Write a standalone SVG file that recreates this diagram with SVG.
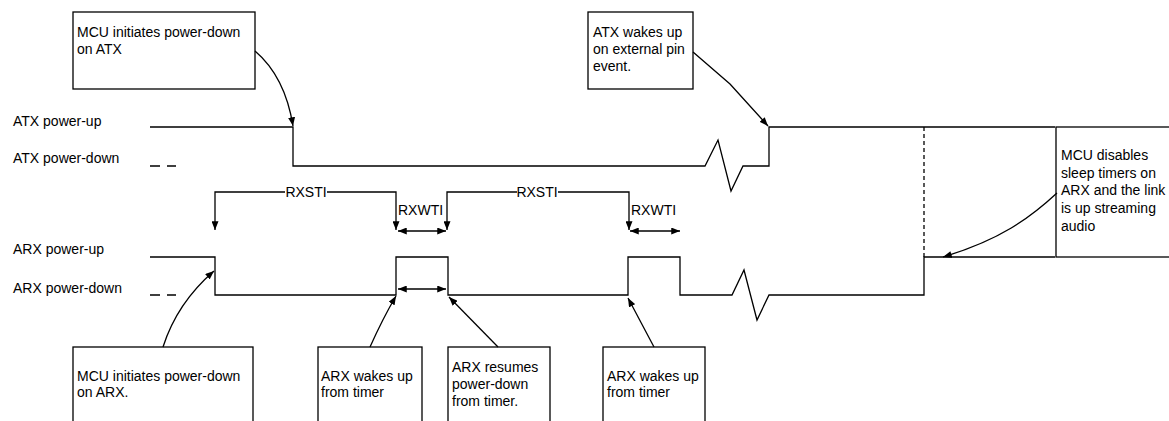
<svg xmlns="http://www.w3.org/2000/svg" width="1169" height="421" viewBox="0 0 1169 421">
<style>
text{font-family:"Liberation Sans",Arial,sans-serif;font-size:14px;fill:#000}
.box{fill:#fff;stroke:#000;stroke-width:1.3}
.ln{fill:none;stroke:#000;stroke-width:1.3}
.dash{fill:none;stroke:#000;stroke-width:1.3;stroke-dasharray:4,3}
.arr{fill:none;stroke:#000;stroke-width:1.3;marker-end:url(#ah)}
.darr{fill:none;stroke:#000;stroke-width:1.3;marker-end:url(#ah);marker-start:url(#ah)}
</style>
<defs>
<marker id="ah" viewBox="0 0 10 8" refX="10" refY="4" markerWidth="9" markerHeight="7" markerUnits="userSpaceOnUse" orient="auto-start-reverse"><path d="M0,0 L10,4 L0,8 Z" fill="#000"/></marker>
</defs>
<rect width="1169" height="421" fill="#fff"/>

<g id="labels">
<text x="13" y="126">ATX power-up</text>
<text x="13" y="163">ATX power-down</text>
<text x="13" y="254">ARX power-up</text>
<text x="13" y="293">ARX power-down</text>
</g>

<g id="signals">
<path class="ln" d="M150,127 H293 V166 H705 L718,140 L731,191 L743,166 H769 V127 H1055"/>
<path class="ln" d="M150,166 H160 M167,166 H176"/>
<path class="ln" d="M150,257 H215 V295 H396 V257 H448 V295 H628 V257 H680 V295 H732 L744,270 L757,320 L769,295 H924 V257 H1055"/>
<path class="ln" d="M150,295 H160 M167,295 H176"/>
<path class="dash" d="M924,127 V257"/>
</g>

<g id="timers">
<path class="arr" d="M285,192 H215 V230"/>
<path class="arr" d="M327,192 H396 V230"/>
<text x="306" y="197" text-anchor="middle">RXSTI</text>
<path class="arr" d="M517,192 H447 V230"/>
<path class="arr" d="M558,192 H629 V230"/>
<text x="537" y="197" text-anchor="middle">RXSTI</text>
<text x="398" y="215">RXWTI</text>
<text x="631" y="215">RXWTI</text>
<path class="darr" d="M398,231 H446"/>
<path class="darr" d="M630,231 H680"/>
<path class="darr" d="M398,289 H446"/>
</g>

<g id="n1">
<rect class="box" x="73" y="12" width="182" height="77"/>
<text x="77" y="37">MCU initiates power-down</text>
<text x="77" y="54">on ATX</text>
</g>
<g id="n2">
<rect class="box" x="588" y="12" width="105" height="77"/>
<text x="593" y="37">ATX wakes up</text>
<text x="593" y="54">on external pin</text>
<text x="593" y="71">event.</text>
</g>
<g id="n3">
<rect class="box" x="1056" y="127" width="120" height="130"/>
<text x="1061" y="160">MCU disables</text>
<text x="1061" y="178">sleep timers on</text>
<text x="1061" y="195">ARX and the link</text>
<text x="1061" y="213">is up streaming</text>
<text x="1061" y="231">audio</text>
</g>
<g id="n4">
<rect class="box" x="73" y="347" width="180" height="90"/>
<text x="77" y="381">MCU initiates power-down</text>
<text x="77" y="397">on ARX.</text>
</g>
<g id="n5">
<rect class="box" x="318" y="347" width="104" height="90"/>
<text x="321" y="381">ARX wakes up</text>
<text x="321" y="397">from timer</text>
</g>
<g id="n6">
<rect class="box" x="448" y="347" width="102" height="90"/>
<text x="452" y="372">ARX resumes</text>
<text x="452" y="389">power-down</text>
<text x="452" y="406">from timer.</text>
</g>
<g id="n7">
<rect class="box" x="603" y="347" width="102" height="90"/>
<text x="607" y="381">ARX wakes up</text>
<text x="607" y="397">from timer</text>
</g>

<g id="connectors">
<path class="arr" d="M255,51 C275,68 288,95 293,126"/>
<path class="arr" d="M693,52 L730,84 L768,126"/>
<path class="arr" d="M1057,193 C1030,218 1000,240 943,257"/>
<path class="arr" d="M163,347 Q177,303 214,271"/>
<path class="arr" d="M370,347 Q383,318 396,296"/>
<path class="arr" d="M498,347 L449,297"/>
<path class="arr" d="M654,347 L628,298"/>
</g>
</svg>
